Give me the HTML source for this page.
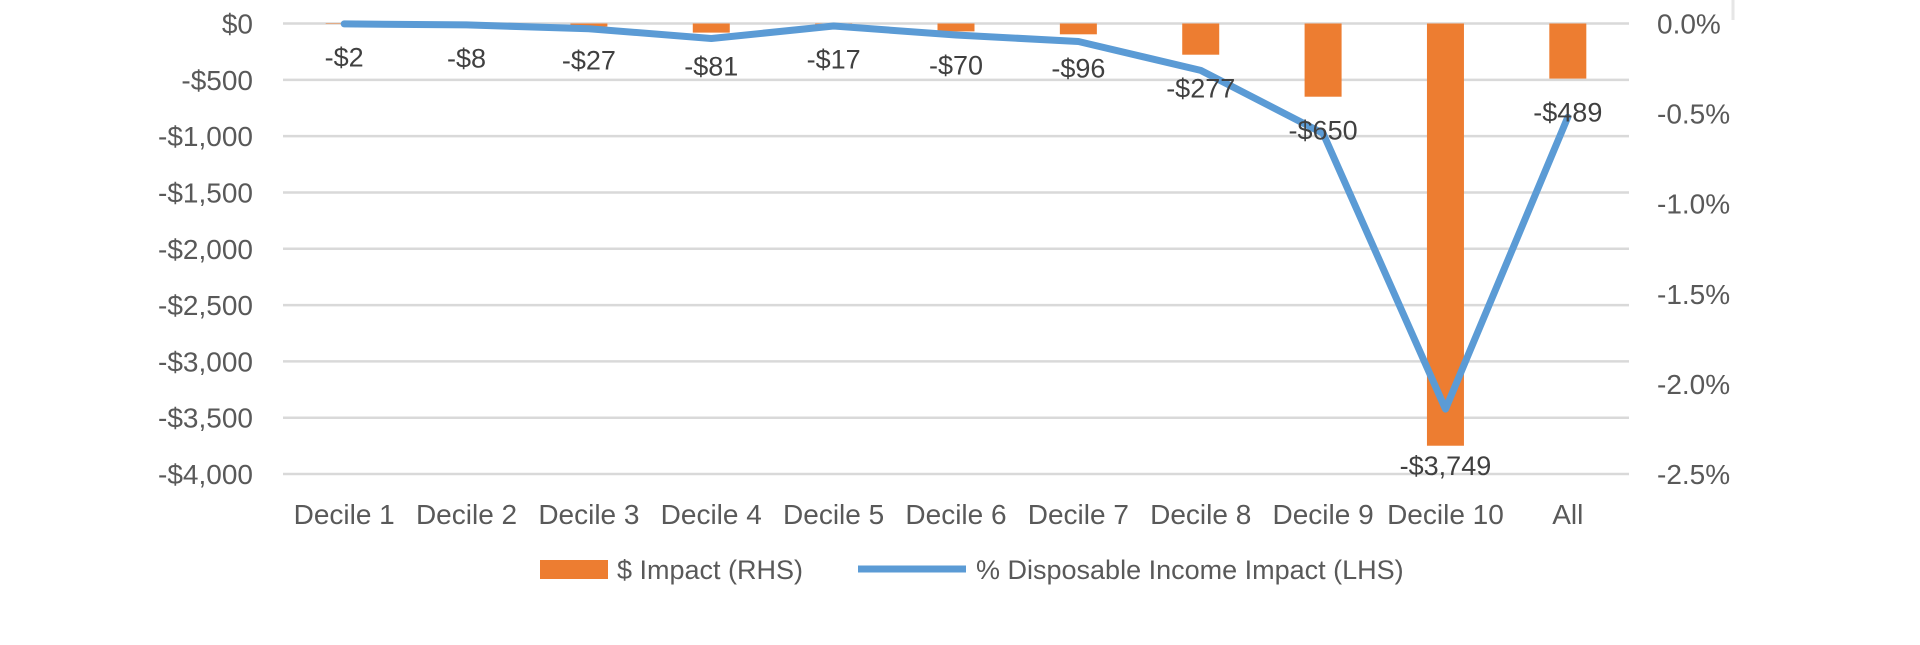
<!DOCTYPE html>
<html><head><meta charset="utf-8"><style>
html,body{margin:0;padding:0;background:#fff;}
svg{display:block;font-family:"Liberation Sans",sans-serif;}
</style></head><body>
<svg id="chart" width="1920" height="645" viewBox="0 0 1920 645" xmlns="http://www.w3.org/2000/svg">
<line x1="1733" y1="0" x2="1733" y2="20" stroke="#e6e6e6" stroke-width="3"/>
<g id="grid"></g>
<g id="bars"></g>
<g id="line"></g>
<g id="labels"></g>
<g id="axes"></g>
<g>
  <rect x="540" y="560" width="68" height="19" fill="#ed7d31"/>
  <text x="617" y="579" font-size="27" fill="#595959">$ Impact (RHS)</text>
  <line x1="858" y1="569" x2="966" y2="569" stroke="#5b9bd5" stroke-width="7"/>
  <text x="976" y="579" font-size="27" fill="#595959">% Disposable Income Impact (LHS)</text>
</g>
</svg>
<script>
const categories = ["Decile 1","Decile 2","Decile 3","Decile 4","Decile 5","Decile 6","Decile 7","Decile 8","Decile 9","Decile 10","All"];
const dollarImpact = [-2,-8,-27,-81,-17,-70,-96,-277,-650,-3749,-489];
const dollarLabels = ["-$2","-$8","-$27","-$81","-$17","-$70","-$96","-$277","-$650","-$3,749","-$489"];
const pctImpact = [-0.002,-0.008,-0.029,-0.083,-0.014,-0.064,-0.10,-0.26,-0.61,-2.14,-0.52];
const leftTicks = [0,-500,-1000,-1500,-2000,-2500,-3000,-3500,-4000];
const leftTickLabels = ["$0","-$500","-$1,000","-$1,500","-$2,000","-$2,500","-$3,000","-$3,500","-$4,000"];
const rightTicks = [0,-0.5,-1.0,-1.5,-2.0,-2.5];
const rightTickLabels = ["0.0%","-0.5%","-1.0%","-1.5%","-2.0%","-2.5%"];

const NS="http://www.w3.org/2000/svg";
const X0=283, X1=1629, Y0=23.5, Y1=474;
const band=(X1-X0)/categories.length;
const xC=i=>X0+band*(i+0.5);
const yL=v=>Y0+(0-v)/4000*(Y1-Y0);
const yR=v=>Y0+(0-v)/2.5*(Y1-Y0);
function mk(tag,attrs,parent,txt){const e=document.createElementNS(NS,tag);for(const k in attrs)e.setAttribute(k,attrs[k]);if(txt!==undefined)e.textContent=txt;parent.appendChild(e);return e;}

const grid=document.getElementById('grid'), axes=document.getElementById('axes');
leftTicks.forEach((t,i)=>{
  const g=mk('line',{x1:X0,x2:X1,y1:yL(t),y2:yL(t),stroke:'#d9d9d9','stroke-width':2.5},grid);
  
  
  const l=mk('text',{x:253,y:yL(t)+10,'text-anchor':'end','font-size':28,fill:'#595959'},axes,leftTickLabels[i]);
  
  
});
rightTicks.forEach((t,i)=>{
  const l=mk('text',{x:1657,y:yR(t)+10,'font-size':28,fill:'#595959'},axes,rightTickLabels[i]);
  
  
});
categories.forEach((c,i)=>{
  const l=mk('text',{x:xC(i),y:524,'text-anchor':'middle','font-size':28,fill:'#595959'},axes,c);
  
  
});
const bars=document.getElementById('bars'), labels=document.getElementById('labels');
const bw=37;
dollarImpact.forEach((v,i)=>{
  const b=mk('rect',{x:xC(i)-bw/2,y:yL(0),width:bw,height:Math.max(yL(v)-yL(0),0.5),fill:'#ed7d31'},bars);
  
  
  const ly=Math.min(yL(v)+34,466)+9;
  const t=mk('text',{x:xC(i),y:ly,'text-anchor':'middle','font-size':27,fill:'#404040'},labels,dollarLabels[i]);
  
  
});
const pts=pctImpact.map((v,i)=>xC(i).toFixed(1)+','+yR(v).toFixed(1)).join(' ');
const pl=mk('polyline',{points:pts,fill:'none',stroke:'#5b9bd5','stroke-width':7,'stroke-linejoin':'round','stroke-linecap':'round'},document.getElementById('line'));


</script>
</body></html>
